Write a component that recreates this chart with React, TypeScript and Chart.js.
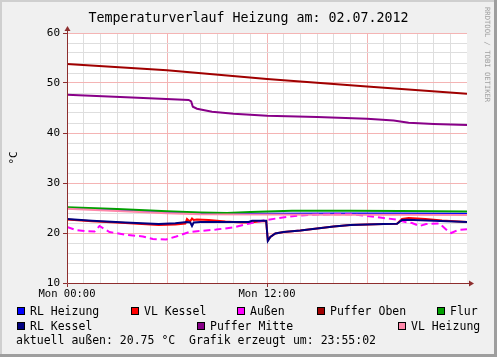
import React, { useEffect, useRef } from 'react';
import { Chart, registerables } from 'chart.js';

Chart.register(...registerables);

// ---------- texts ----------
const TITLE = 'Temperaturverlauf Heizung am: 02.07.2012';
const Y_TITLE = '°C';
const WATERMARK = 'RRDTOOL / TOBI OETIKER';
const FOOTER = 'aktuell außen: 20.75 °C  Grafik erzeugt um: 23:55:02';

// ---------- axes ----------
const xTickHours = [0, 12];
const xTickLabels = ['Mon 00:00', 'Mon 12:00'];
const yTickValues = [10, 20, 30, 40, 50, 60];

// ---------- series (hours since Mon 00:00, °C) ----------
const seriesNames = ['RL Heizung', 'VL Kessel', 'Außen', 'Puffer Oben', 'Flur', 'RL Kessel', 'Puffer Mitte', 'VL Heizung'];
const seriesColors = ['#0000FF', '#FF0000', '#FF00FF', '#A00000', '#00A000', '#000080', '#880088', '#FF88AA'];
const dashedSeries = ['Außen'];

const rlHeizungH = [0, 3, 6, 8, 12, 16, 20, 24];
const rlHeizungV = [25.0, 24.6, 24.15, 23.9, 23.85, 23.9, 23.9, 23.85];

const vlKesselH = [0, 1.5, 3.5, 4.5, 5.5, 6.5, 7.1, 7.2, 7.3, 7.4, 7.5, 7.6, 7.8, 8.5, 9.5, 10.5, 11, 11.5, 11.95, 12.05, 12.2, 12.5, 13, 14, 15, 16, 17, 18, 19, 19.8, 20.1, 20.5, 21.5, 22.5, 24];
const vlKesselV = [22.7, 22.35, 22.0, 21.8, 21.6, 21.7, 21.9, 22.8, 22.5, 22.4, 22.9, 22.6, 22.7, 22.6, 22.3, 22.1, 22.1, 22.3, 22.4, 18.5, 19.2, 19.9, 20.2, 20.5, 20.9, 21.3, 21.6, 21.7, 21.8, 21.85, 22.8, 23.0, 22.8, 22.5, 22.2];

const aussenH = [0, 0.55, 1.15, 1.65, 1.95, 2.55, 3.55, 4.55, 5.15, 5.95, 6.55, 7.35, 7.95, 8.95, 9.95, 10.95, 11.95, 12.95, 13.95, 15, 16, 17, 18, 19, 19.75, 20.3, 20.7, 21.15, 21.55, 22.35, 22.85, 23.05, 23.45, 24];
const aussenV = [21.2, 20.6, 20.35, 20.3, 21.4, 20.2, 19.65, 19.3, 18.8, 18.7, 19.3, 20.2, 20.4, 20.7, 21.1, 21.9, 22.6, 23.1, 23.5, 23.7, 23.75, 23.75, 23.4, 23.0, 22.7, 22.2, 22.0, 21.4, 21.8, 21.9, 20.4, 20.0, 20.6, 20.75];

const pufferObenH = [0, 6, 12, 18, 24];
const pufferObenV = [53.8, 52.55, 50.8, 49.3, 47.85];

const flurH = [0, 3, 6, 8, 9.6, 11, 13.5, 17, 20, 24];
const flurV = [25.15, 24.8, 24.35, 24.1, 24.0, 24.2, 24.45, 24.45, 24.4, 24.3];

const rlKesselH = [0, 1.5, 3.5, 5.5, 6.5, 7.2, 7.4, 7.5, 7.6, 8, 9, 10, 10.9, 11.1, 11.95, 12.05, 12.2, 12.5, 13, 14, 15, 16, 17, 18, 19, 19.8, 20.1, 20.4, 22, 24];
const rlKesselV = [22.8, 22.45, 22.1, 21.8, 21.95, 22.2, 22.1, 21.4, 22.1, 22.2, 22.2, 22.2, 22.2, 22.45, 22.45, 18.4, 19.2, 19.9, 20.2, 20.5, 20.9, 21.3, 21.6, 21.7, 21.8, 21.85, 22.6, 22.65, 22.45, 22.2];

const pufferMitteH = [0, 3.9, 7.3, 7.45, 7.55, 7.8, 8.7, 10, 12, 15, 18, 19.6, 20.5, 22, 24];
const pufferMitteV = [47.65, 47.1, 46.6, 46.3, 45.25, 44.85, 44.25, 43.85, 43.45, 43.2, 42.85, 42.5, 42.05, 41.8, 41.6];

const vlHeizungH = [0, 3, 6, 8, 12, 16, 20, 24];
const vlHeizungV = [24.85, 24.4, 23.95, 23.75, 23.7, 23.65, 23.65, 23.6];

const seriesHours = [rlHeizungH, vlKesselH, aussenH, pufferObenH, flurH, rlKesselH, pufferMitteH, vlHeizungH];
const seriesValues = [rlHeizungV, vlKesselV, aussenV, pufferObenV, flurV, rlKesselV, pufferMitteV, vlHeizungV];

// ---------- styling / layout ----------
const W = 497;
const H = 357;
const MONO = '"DejaVu Sans Mono", monospace';
const GRID = '#DEDEDE';
const MGRID = '#F4B4B4';
const AXIS = '#8E2E2E';
const BACK = '#F0F0F0';

// legend box positions [x, y] per series (same order as seriesNames)
const legendBoxes = [
  [17, 307], [131, 307], [237, 307], [317, 307], [437, 307],
  [17, 322], [197, 322], [398, 322],
];

const rrdPlugin = {
  id: 'rrdFrame',
  beforeDraw(chart: any) {
    const { ctx, chartArea: a } = chart;
    ctx.save();
    ctx.fillStyle = BACK;
    ctx.fillRect(0, 0, W, H);
    ctx.fillStyle = '#CFCFCF';
    ctx.fillRect(0, 0, W, 2);
    ctx.fillRect(0, 0, 2, H);
    ctx.fillStyle = '#9E9E9E';
    ctx.fillRect(0, H - 3, W, 3);
    ctx.fillRect(W - 3, 0, 3, H);
    ctx.fillStyle = '#FFFFFF';
    ctx.fillRect(a.left, a.top, a.right - a.left, a.bottom - a.top);
    ctx.restore();
  },
  afterDraw(chart: any) {
    const { ctx, chartArea: a } = chart;
    ctx.save();
    // axes with arrows
    const ax = Math.round(a.left) + 0.5;
    const ay = Math.round(a.bottom) + 0.5;
    ctx.strokeStyle = AXIS;
    ctx.fillStyle = AXIS;
    ctx.lineWidth = 1;
    ctx.beginPath();
    ctx.moveTo(ax, ay);
    ctx.lineTo(a.right + 3, ay);
    ctx.moveTo(ax, ay);
    ctx.lineTo(ax, a.top - 3);
    ctx.stroke();
    ctx.beginPath();
    ctx.moveTo(a.right + 2, ay - 3);
    ctx.lineTo(a.right + 7, ay);
    ctx.lineTo(a.right + 2, ay + 3);
    ctx.closePath();
    ctx.fill();
    ctx.beginPath();
    ctx.moveTo(ax - 3, a.top - 2);
    ctx.lineTo(ax, a.top - 7);
    ctx.lineTo(ax + 3, a.top - 2);
    ctx.closePath();
    ctx.fill();

    // title
    ctx.fillStyle = '#000';
    ctx.font = `13.3px ${MONO}`;
    ctx.textAlign = 'center';
    ctx.textBaseline = 'alphabetic';
    ctx.fillText(TITLE, W / 2, 22);

    // watermark
    ctx.save();
    ctx.translate(487, 7);
    ctx.rotate(Math.PI / 2);
    ctx.fillStyle = '#A0A0A0';
    ctx.font = `7.2px ${MONO}`;
    ctx.textAlign = 'left';
    ctx.textBaseline = 'middle';
    ctx.fillText(WATERMARK, 0, 0);
    ctx.restore();

    // legend
    ctx.font = `11.5px ${MONO}`;
    ctx.textAlign = 'left';
    ctx.textBaseline = 'alphabetic';
    chart.data.datasets.forEach((ds: any, i: number) => {
      const [bx, by] = legendBoxes[i];
      ctx.fillStyle = ds.borderColor;
      ctx.fillRect(bx, by, 8, 8);
      ctx.strokeStyle = '#000';
      ctx.lineWidth = 1;
      ctx.strokeRect(bx + 0.5, by + 0.5, 7, 7);
      ctx.fillStyle = '#000';
      ctx.fillText(ds.label, bx + 13, by + 8);
    });
    ctx.fillText(FOOTER, 16, 344);
    ctx.restore();
  },
};

function buildConfig(): any {
  return {
    type: 'line',
    data: {
      datasets: seriesNames.map((name, i) => ({
        label: name,
        data: seriesHours[i].map((h, j) => ({ x: h, y: seriesValues[i][j] })),
        borderColor: seriesColors[i],
        backgroundColor: seriesColors[i],
        borderWidth: 2,
        borderDash: dashedSeries.includes(name) ? [7, 4] : [],
        pointRadius: 0,
        fill: false,
        tension: 0,
        order: seriesNames.length - i,
      })),
    },
    options: {
      responsive: false,
      animation: false,
      devicePixelRatio: 1,
      events: [],
      layout: { padding: { left: 0, top: 33, right: 30, bottom: 54 } },
      plugins: {
        legend: { display: false },
        title: { display: false },
        tooltip: { enabled: false },
      },
      scales: {
        x: {
          type: 'linear',
          min: 0,
          max: 24,
          afterBuildTicks: (s: any) => {
            s.ticks = Array.from({ length: 25 }, (_: any, i: number) => ({ value: i }));
          },
          afterFit: (s: any) => {
            s.height = 20;
          },
          ticks: {
            autoSkip: false,
            maxRotation: 0,
            minRotation: 0,
            padding: 1,
            color: '#000',
            font: { family: MONO, size: 10.5 },
            callback: (v: number) => {
              const k = xTickHours.indexOf(v);
              return k >= 0 ? xTickLabels[k] : '';
            },
          },
          grid: {
            color: (c: any) => (c.tick.value === 24 ? 'rgba(0,0,0,0)' : c.tick.value % 6 === 0 ? MGRID : GRID),
            tickColor: (c: any) => (xTickHours.includes(c.tick.value) ? AXIS : 'rgba(0,0,0,0)'),
            tickLength: 4,
            lineWidth: 1,
          },
          border: { display: false },
        },
        y: {
          min: 10,
          max: 60,
          afterBuildTicks: (s: any) => {
            s.ticks = Array.from({ length: 26 }, (_: any, i: number) => ({ value: 10 + i * 2 }));
          },
          afterFit: (s: any) => {
            s.width = 67;
          },
          ticks: {
            autoSkip: false,
            padding: 3,
            color: '#000',
            font: { family: MONO, size: 11 },
            callback: (v: number) => (yTickValues.includes(v) ? String(v) : ''),
          },
          grid: {
            color: (c: any) => (c.tick.value % 10 === 0 ? MGRID : GRID),
            tickColor: (c: any) => (yTickValues.includes(c.tick.value) ? AXIS : 'rgba(0,0,0,0)'),
            tickLength: 4,
            lineWidth: 1,
          },
          border: { display: false },
          title: {
            display: true,
            text: Y_TITLE,
            color: '#000',
            font: { family: MONO, size: 11 },
            padding: { top: 8, bottom: 0 },
          },
        },
      },
    },
    plugins: [rrdPlugin],
  };
}

export default function App() {
  const ref = useRef<HTMLCanvasElement>(null);
  useEffect(() => {
    document.body.style.margin = '0';
    const chart = new Chart(ref.current as HTMLCanvasElement, buildConfig());
    return () => chart.destroy();
  }, []);
  return (
    <div style={{ width: W, height: H, position: 'relative' }}>
      <canvas ref={ref} width={W} height={H} style={{ display: 'block', width: W, height: H }} />
    </div>
  );
}
